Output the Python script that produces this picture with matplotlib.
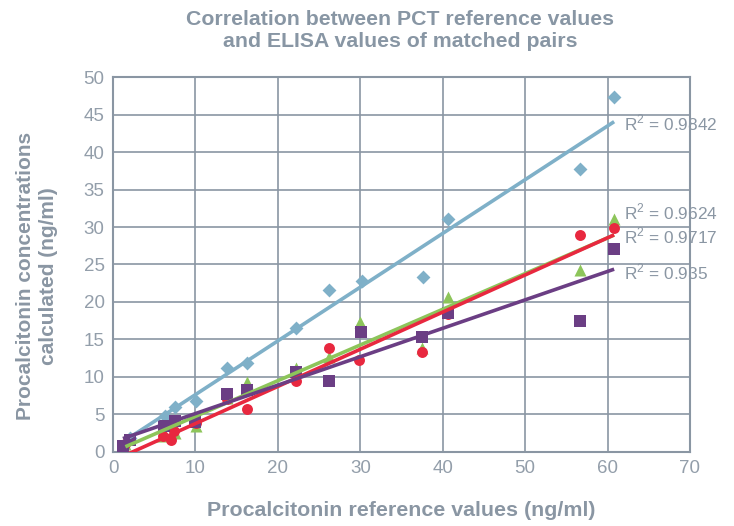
import numpy as np
import matplotlib.pyplot as plt

plt.rcParams['font.family'] = ['Liberation Sans', 'DejaVu Sans']
plt.rcParams['mathtext.fontset'] = 'custom'
plt.rcParams['mathtext.rm'] = 'Liberation Sans'

# reference values (ng/ml)
ref_blue = [2.0, 6.3, 7.5, 10.1, 13.8, 16.2, 22.2, 26.2, 30.2, 37.6, 40.7, 56.6, 60.8]
elisa_blue = [1.9, 4.8, 6.0, 6.8, 11.2, 11.8, 16.5, 21.6, 22.8, 23.3, 31.1, 37.8, 47.3]

ref_green = [1.5, 5.9, 7.5, 10.1, 13.8, 16.2, 22.2, 26.2, 30.0, 37.5, 40.6, 56.6, 60.8]
elisa_green = [1.0, 2.1, 2.5, 3.4, 7.2, 9.3, 11.2, 12.6, 17.3, 13.9, 20.6, 24.2, 31.1]

ref_red = [1.5, 6.1, 7.0, 7.4, 10.1, 13.8, 16.2, 22.2, 26.2, 29.9, 37.5, 40.6, 56.6, 60.8]
elisa_red = [1.0, 2.1, 1.6, 2.8, 3.8, 7.0, 5.7, 9.5, 13.9, 12.2, 13.3, 18.4, 28.9, 29.9]

ref_purple = [1.2, 2.0, 6.2, 7.5, 10.0, 13.8, 16.2, 22.2, 26.2, 30.1, 37.5, 40.6, 56.6, 60.8]
elisa_purple = [0.8, 1.6, 3.4, 4.1, 4.0, 7.7, 8.2, 10.6, 9.5, 16.0, 15.3, 18.5, 17.4, 27.0]

r2_labels = ["R$^2$ = 0.9842", "R$^2$ = 0.9624", "R$^2$ = 0.9717", "R$^2$ = 0.935"]
label_y = [43.8, 32.0, 28.8, 24.0]

grey = "#8a96a3"
title_col = "#8896a4"

fig = plt.figure(figsize=(7.34, 5.26), dpi=100)
ax = fig.add_axes([0.154, 0.1407, 0.786, 0.7129])

series = [
    (ref_blue, elisa_blue, "#7fb0c8", "D", 50),
    (ref_green, elisa_green, "#8dc55a", "^", 75),
    (ref_red, elisa_red, "#e8283f", "o", 62),
    (ref_purple, elisa_purple, "#6b3e84", "s", 75),
]

for x, y, c, m, s in series:
    ax.scatter(x, y, s=s, marker=m, color=c, linewidths=0, zorder=3)

for (x, y, c, m, s), lab, ly in zip(series, r2_labels, label_y):
    k, b = np.polyfit(x, y, 1)
    xs = np.array([min(x), max(x)])
    ax.plot(xs, k * xs + b, color=c, lw=2.6, solid_capstyle="butt", zorder=4)
    ax.text(62.0, ly, lab, color=grey, fontsize=12.4, va="center", ha="left",
            clip_on=False, zorder=5)

ax.set_xlim(0, 70)
ax.set_ylim(0, 50)
ax.set_xticks(range(0, 71, 10))
ax.set_yticks(range(0, 51, 5))
ax.grid(True, color=grey, lw=1.2)
ax.set_axisbelow(True)
for sp in ax.spines.values():
    sp.set_color(grey)
    sp.set_linewidth(1.5)
ax.tick_params(colors="#939eaa", labelsize=13.5, length=0, pad=6)

ax.set_xlabel("Procalcitonin reference values (ng/ml)", fontsize=15.4,
              fontweight="bold", color=grey)
ax.xaxis.set_label_coords(0.5, -0.132)
ax.set_ylabel("Procalcitonin concentrations\ncalculated (ng/ml)", fontsize=15,
              fontweight="bold", color=grey, linespacing=1.3)
ax.yaxis.set_label_coords(-0.095, 0.47)
fig.text(0.545, 0.942, "Correlation between PCT reference values\nand ELISA values of matched pairs",
         ha="center", va="center", fontsize=15.3, fontweight="bold", color=title_col,
         linespacing=1.2)

fig.savefig("out.png", dpi=100)
